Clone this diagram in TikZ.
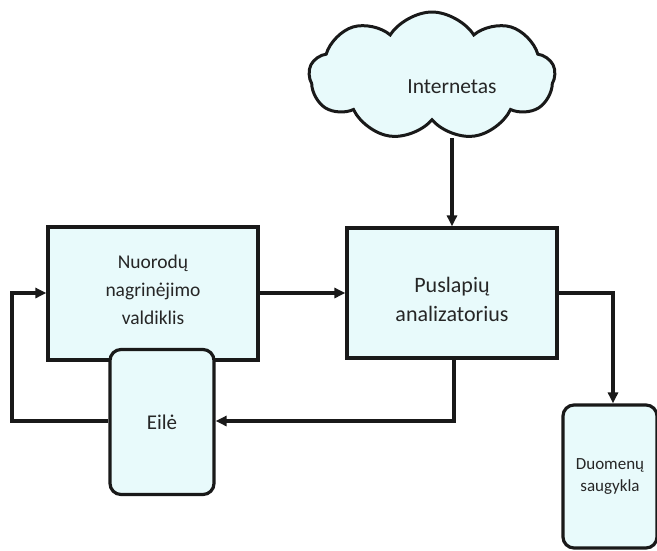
\documentclass[tikz,border=0pt]{standalone}
\usepackage{fontspec}
\setmainfont{Carlito}
\usetikzlibrary{shapes.symbols,arrows.meta}
\definecolor{boxfill}{RGB}{232,250,251}
\definecolor{inkline}{RGB}{25,25,25}
\begin{document}
\begin{tikzpicture}[x=1pt,y=-1pt,
  block/.style={draw=inkline,line width=3.2pt,fill=boxfill,inner sep=0pt},
  store/.style={block,rounded corners=11pt,align=center,text=black!85},
  caption/.style={inner sep=0pt,align=center,text=black!85},
  link/.style={draw=inkline,line width=3.2pt,-{Triangle[length=11pt,width=10pt]}}]
\useasboundingbox (0,0) rectangle (657,550);

% network cloud with its caption set a little off centre
\node[cloud,cloud puffs=9,cloud puff arc=115,aspect=2.0,draw=inkline,line width=3pt,fill=boxfill,
      minimum width=246pt,minimum height=128pt,inner sep=0pt] (net) at (432,76) {};
\node[caption,font=\fontsize{21.5}{24}\selectfont] (netname) at (452,87) {Internetas};

% processing blocks and their captions
\node[block,minimum width=210pt,minimum height=133pt] (ctrl) at (153,293.5) {};
\node[caption,font=\fontsize{19.5}{28}\selectfont] (ctrlname) at (153,290)
  {Nuorodų\\nagrinėjimo\\valdiklis};
\node[block,minimum width=210pt,minimum height=130pt] (parse) at (452,293) {};
\node[caption,font=\fontsize{22}{29}\selectfont] (parsename) at (452,299)
  {Puslapių\\analizatorius};

% storages
\node[store,minimum width=104pt,minimum height=145pt,font=\fontsize{21}{24}\selectfont] (queue) at (162,422) {Eilė};
\node[store,minimum width=94pt,minimum height=143pt,font=\fontsize{17}{22}\selectfont] (db) at (610,476.5)
  {Duomenų\\saugykla};

\coordinate (cloudfoot) at (452,138);
\coordinate (leftrail) at (12,421);
\coordinate (leftup) at (12,293);
\coordinate (pdrop) at (454,421);
\coordinate (pright) at (613,293);

\draw[link] (cloudfoot) -- (parse.north -| cloudfoot);
\draw[link] (ctrl.east |- 0,293) -- (parse.west |- 0,293);
\draw[link] (parse.south -| pdrop) -- (pdrop) -- (queue.east |- pdrop);
\draw[link] (queue.west |- leftrail) -- (leftrail) -- (leftup) -- (ctrl.west |- leftup);
\draw[link] (parse.east |- pright) -- (pright) -- (db.north -| pright);
\end{tikzpicture}
\end{document}
